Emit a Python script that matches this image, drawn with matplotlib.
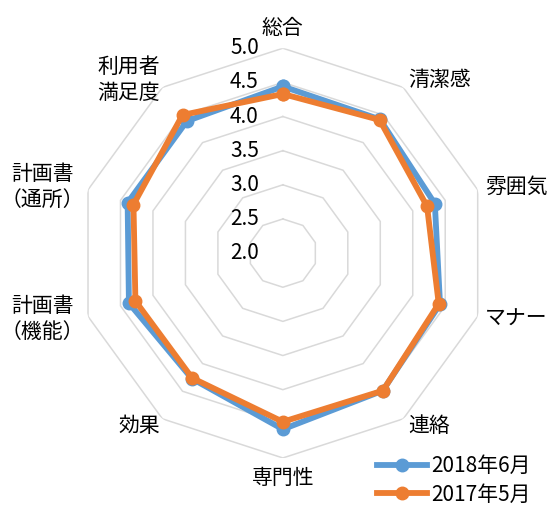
import matplotlib
matplotlib.use('Agg')
import matplotlib.pyplot as plt
import numpy as np

plt.rcParams['font.family'] = ['Noto Sans CJK JP', 'DejaVu Sans']

# 評価項目とスコア
categories = ['総合', '清潔感', '雰囲気', 'マナー', '連絡', '専門性', '効果',
              '計画書\n（機能）', '計画書\n（通所）', '利用者\n満足度']
score_2018 = [4.44, 4.42, 4.34, 4.42, 4.49, 4.58, 4.27, 4.37, 4.39, 4.39]
score_2017 = [4.33, 4.41, 4.22, 4.40, 4.49, 4.47, 4.26, 4.27, 4.30, 4.50]
series_names = ['2018年6月', '2017年5月']
ring_values = [2.0, 2.5, 3.0, 3.5, 4.0, 4.5, 5.0]

BLUE = '#5B9BD5'
ORANGE = '#ED7D31'
GRID = '#D9D9D9'
FS = 15

n = len(categories)
angles = np.linspace(0, 2 * np.pi, n, endpoint=False)
angles_closed = np.append(angles, angles[0])

fig = plt.figure(figsize=(5.59, 5.16), dpi=100)
ax = fig.add_axes([0.1395, 0.112, 0.733, 0.795], projection='polar')
ax.set_theta_zero_location('N')
ax.set_theta_direction(-1)
ax.set_ylim(ring_values[0], ring_values[-1])
ax.grid(False)
ax.set_xticks([])
ax.set_yticks([])
ax.spines['polar'].set_visible(False)
ax.patch.set_visible(False)

# 十角形のグリッド
for r in ring_values[1:]:
    ax.plot(angles_closed, [r] * (n + 1), color=GRID, lw=1.1, zorder=1)

# 目盛りラベル
for r in ring_values:
    ax.annotate('{:.1f}'.format(r), xy=(0, r), xytext=(-24, 0),
                textcoords='offset pixels', ha='right', va='center',
                fontsize=FS, color='#000000')

# 項目ラベル
for ang, label in zip(angles, categories):
    s, c = np.sin(ang), np.cos(ang)
    if s > 0.1:
        ha, dx = 'left', 8 * s
    elif s < -0.1:
        ha, dx = 'right', 4 * s  # 全角括弧の余白があるので少し寄せる
    else:
        ha, dx = 'center', 0
    if abs(s) < 0.1:
        va = 'bottom' if c > 0 else 'top'
    else:
        va = 'center'
    ax.annotate(label, xy=(ang, ring_values[-1]), xytext=(dx, 9 * c),
                textcoords='offset pixels', ha=ha, va=va, fontsize=FS,
                multialignment='center', linespacing=1.25,
                annotation_clip=False)

for vals, color, name in [(score_2018, BLUE, series_names[0]),
                          (score_2017, ORANGE, series_names[1])]:
    v = np.append(vals, vals[0])
    ax.plot(angles_closed, v, color=color, lw=4.2, marker='o', markersize=9,
            label=name, zorder=3, clip_on=False)

fig.legend(loc='lower left', bbox_to_anchor=(0.655, 0.0), frameon=False,
           fontsize=FS, handlelength=2.4, handletextpad=0.2,
           labelspacing=0.3, borderaxespad=0.1)

plt.savefig('out.png', dpi=100)
plt.close()
